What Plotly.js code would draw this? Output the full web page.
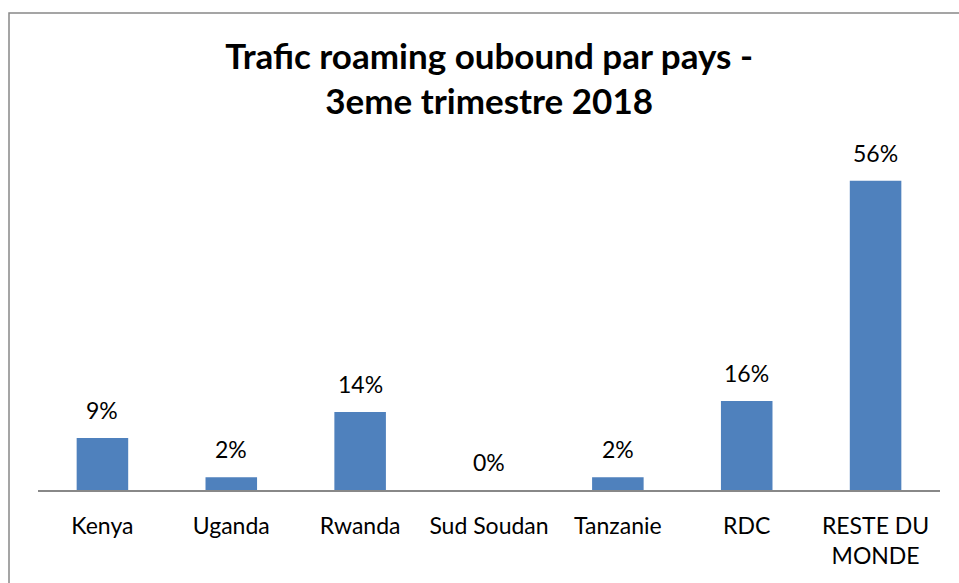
<!DOCTYPE html>
<html>
<head>
<meta charset="utf-8">
<script src="https://cdn.plot.ly/plotly-3.0.1.min.js"></script>
<style>html,body{margin:0;padding:0;background:#fff;}#chart{width:959px;height:583px;}</style>
</head>
<body>
<div id="chart"></div>
<script>
const categories = ["Kenya", "Uganda", "Rwanda", "Sud Soudan", "Tanzanie", "RDC", "RESTE DU MONDE"];
const tickLabels = ["Kenya", "Uganda", "Rwanda", "Sud Soudan", "Tanzanie", "RDC", "RESTE DU<br>MONDE"];
const shares = [0.094, 0.023, 0.141, 0, 0.023, 0.161, 0.559];
const shareLabels = ["9%", "2%", "14%", "0%", "2%", "16%", "56%"];

const FONT = "Lato, 'Open Sans', sans-serif";
const ML = 38, MR = 19, MT = 158, MB = 93, W = 959, H = 583;
const pw = W - ML - MR, ph = H - MT - MB;
const px = v => (v - ML) / pw;
const py = v => 1 - (v - MT) / ph;

const trace = {
  type: "bar",
  x: categories,
  y: shares,
  marker: {color: "#4F81BD"},
  hoverinfo: "x+y"
};

const annotations = categories.map((c, i) => ({
  x: c, y: shares[i], xref: "x", yref: "y",
  text: shareLabels[i], showarrow: false,
  yanchor: "bottom", yshift: 12,
  font: {family: FONT, size: 23, color: "#000"}
}));

const layout = {
  width: W, height: H,
  margin: {l: ML, r: MR, t: MT, b: MB},
  paper_bgcolor: "#fff", plot_bgcolor: "#fff",
  showlegend: false,
  bargap: 0.6,
  title: {
    text: "<b>Trafic roaming oubound par pays -<br>3eme trimestre 2018</b>",
    x: 0.51, xanchor: "center", yref: "container", y: 0.882, yanchor: "middle",
    font: {family: FONT, size: 35, color: "#000"}
  },
  xaxis: {
    type: "category",
    tickvals: categories, ticktext: tickLabels,
    showline: true, linecolor: "#888", linewidth: 1.5,
    ticks: "", ticklabelstandoff: 15,
    tickfont: {family: FONT, size: 23, color: "#000"},
    showgrid: false, zeroline: false
  },
  yaxis: {
    range: [0, 0.6], visible: false, showgrid: false, zeroline: false
  },
  annotations: annotations,
  shapes: [{
    type: "rect", xref: "paper", yref: "paper",
    x0: px(9), x1: px(975), y0: py(600), y1: py(13),
    line: {color: "#888", width: 1.5}, fillcolor: "rgba(0,0,0,0)", layer: "below"
  }]
};

Plotly.newPlot("chart", [trace], layout, {displayModeBar: false, staticPlot: true});
</script>
</body>
</html>
